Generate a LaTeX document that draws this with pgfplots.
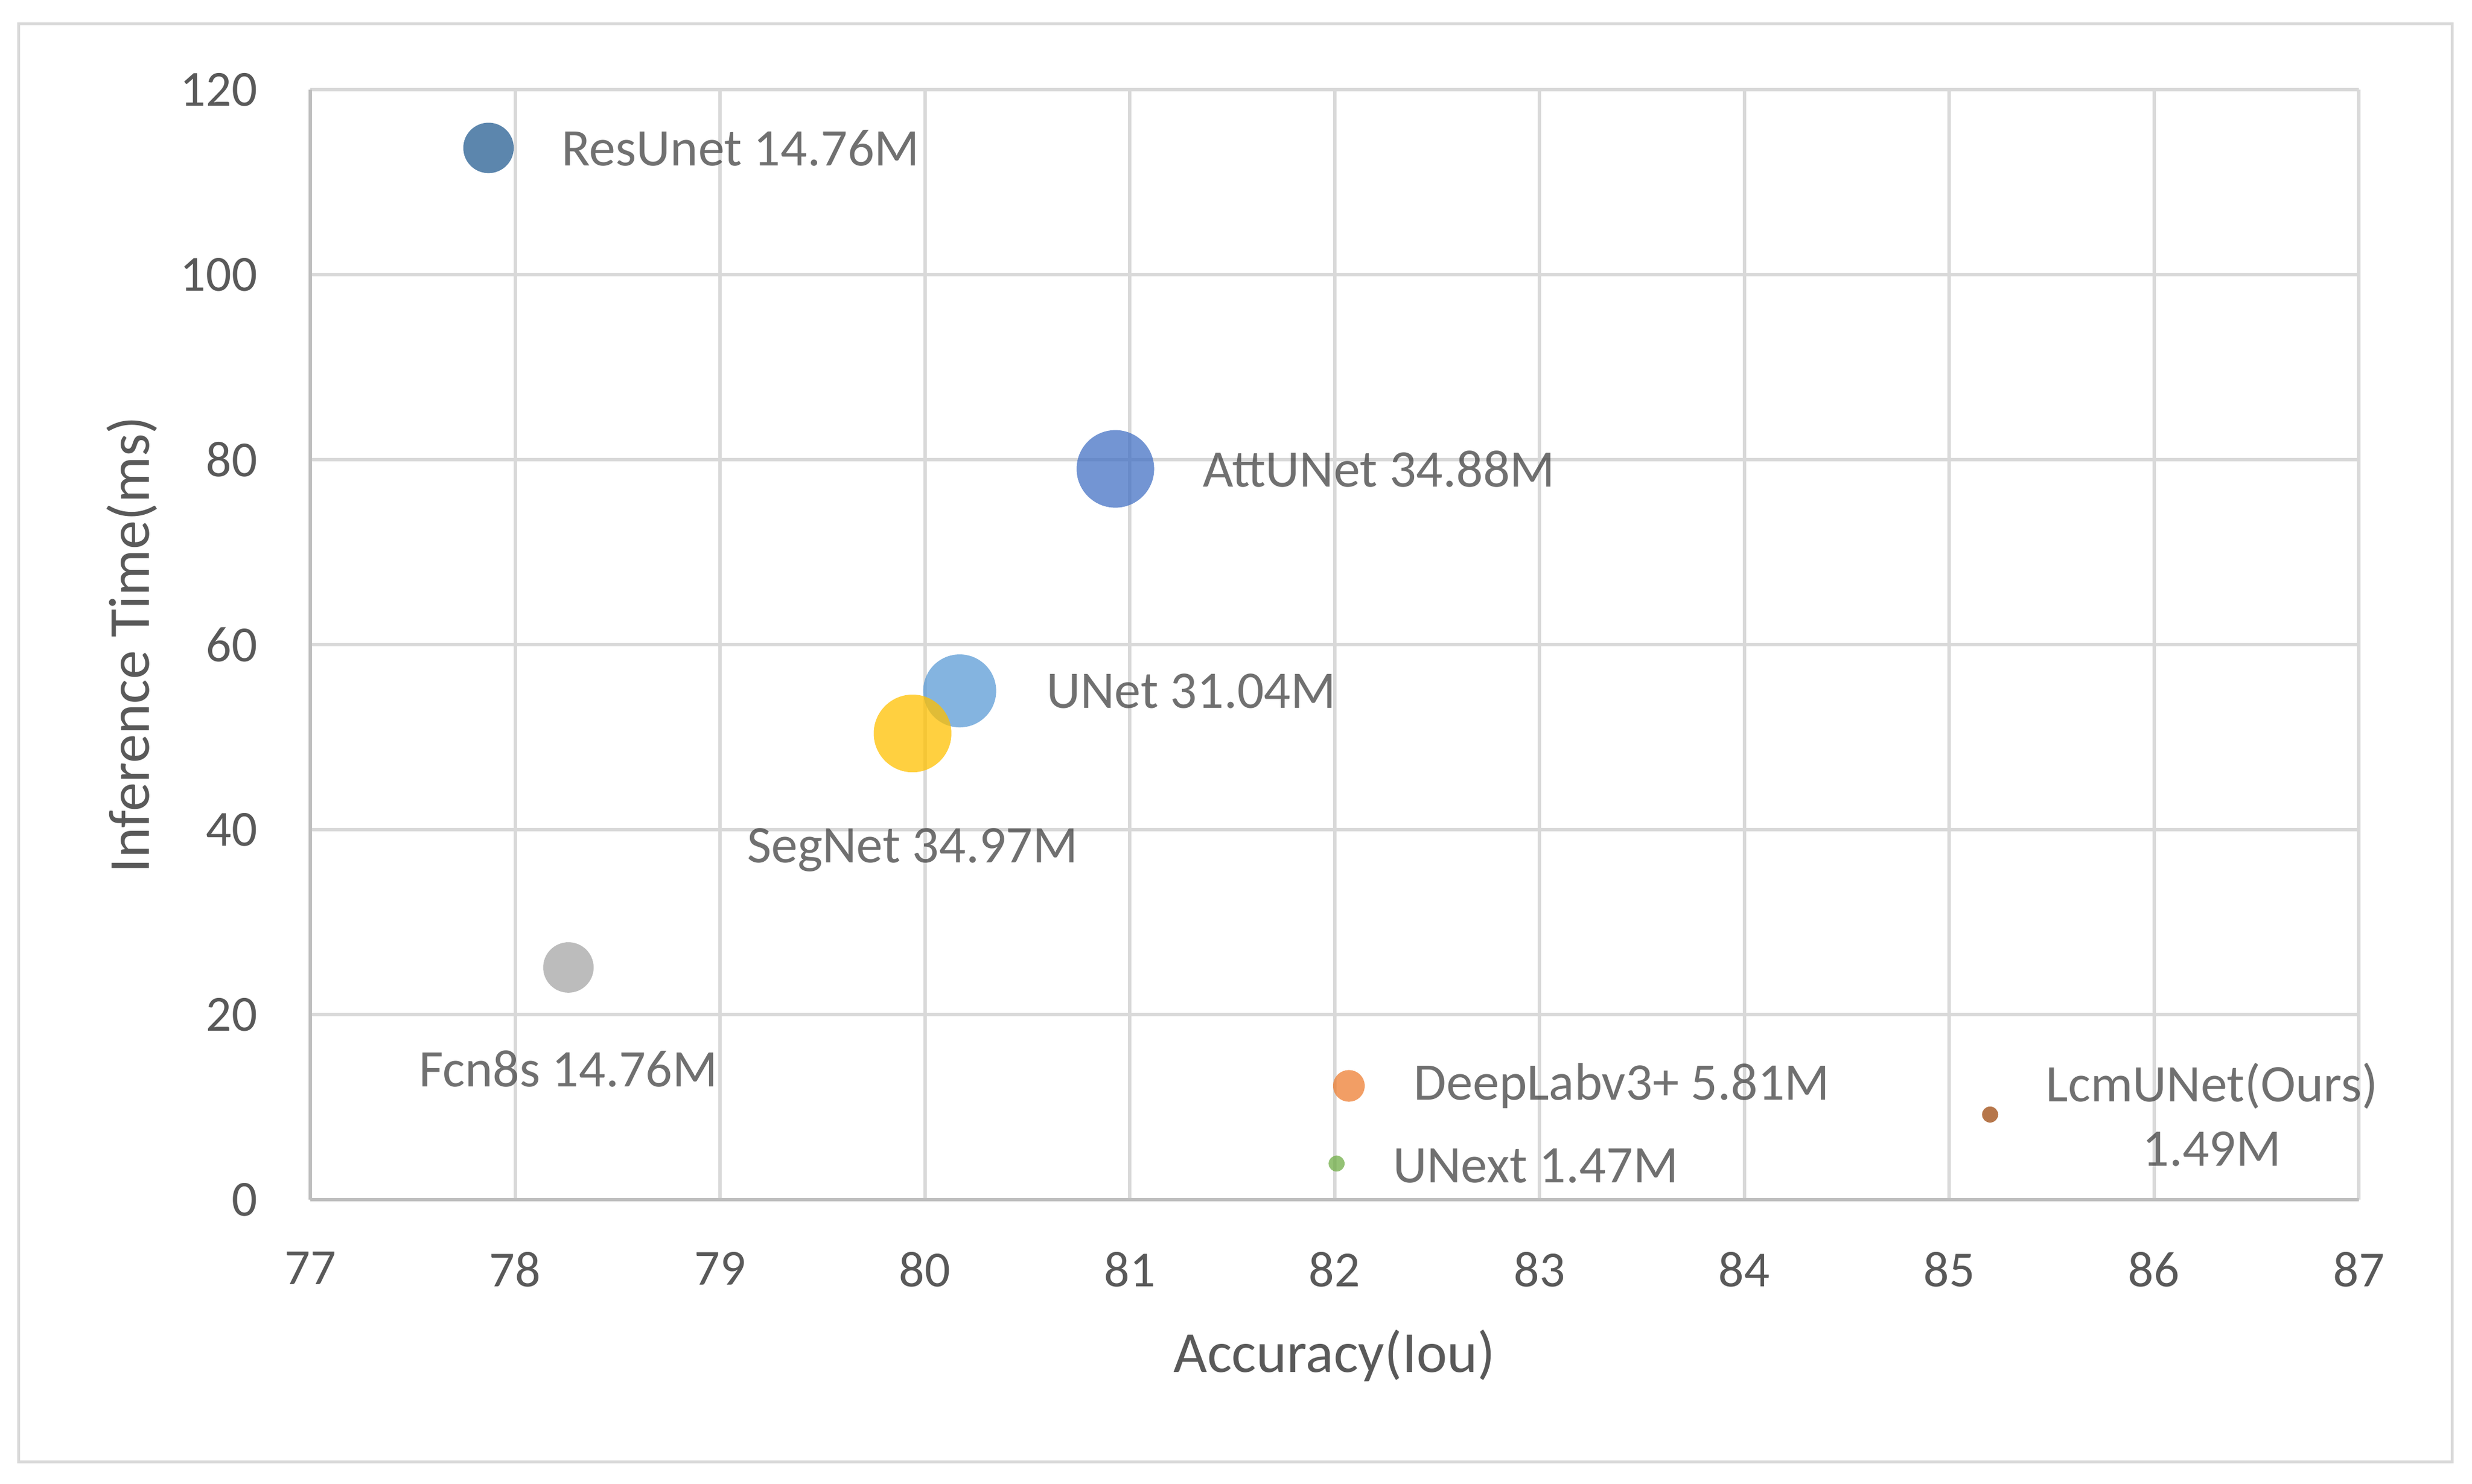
\documentclass[border=0pt]{standalone}
\usepackage{pgfplots}
\pgfplotsset{compat=1.18}
\usepackage{fontspec}
\setmainfont{Carlito}

\definecolor{cgrid}{HTML}{D9D9D9}
\definecolor{caxis}{HTML}{BFBFBF}
\definecolor{ctick}{HTML}{595959}
\definecolor{ctext}{HTML}{404040}
\definecolor{cres}{HTML}{255E91}
\definecolor{catt}{HTML}{4472C4}
\definecolor{cunet}{HTML}{5B9BD5}
\definecolor{cseg}{HTML}{FFC000}
\definecolor{cfcn}{HTML}{A5A5A5}
\definecolor{cdeep}{HTML}{ED7D31}
\definecolor{cnext}{HTML}{70AD47}
\definecolor{clcm}{HTML}{9E480E}

\pgfplotsset{bubble/.style={only marks, mark=*, color=#1,
  mark options={fill=#1, fill opacity=0.75, draw opacity=0, line width=0pt}}}

\begin{document}
\begin{tikzpicture}
\begin{axis}[
  name=ax,
  scale only axis,
  width=356.5pt, height=193.2pt,
  xmin=77, xmax=87, ymin=0, ymax=120,
  xtick={77,...,87}, ytick={0,20,...,120},
  axis lines=left,
  axis line style={-, caxis, line width=0.6pt},
  grid=major,
  major grid style={cgrid, line width=0.6pt},
  major tick length=0pt,
  tick label style={ctick, font=\fontsize{8.8}{10}\selectfont},
  /pgf/number format/assume math mode=true,
  xticklabel style={yshift=-5.6pt},
  yticklabel style={xshift=-5.7pt},
  xlabel={Accuracy(Iou)},
  ylabel={Inference Time(ms)},
  label style={ctick, font=\fontsize{10.1}{12}\selectfont},
  xlabel style={at={(axis description cs:0.5,-0.1408)}, anchor=center},
  ylabel style={at={(axis description cs:-0.087,0.5)}, anchor=center},
  clip=false,
  every node near coord/.style={ctext, font=\fontsize{9.2}{11.2}\selectfont},
]
% ResUnet
\addplot[bubble=cres, mark size=4.39pt,
  nodes near coords={ResUnet 14.76M},
  every node near coord/.append style={anchor=west, xshift=9.4pt}]
  coordinates {(77.87,113.7)};
% AttUNet
\addplot[bubble=catt, mark size=6.75pt,
  nodes near coords={AttUNet 34.88M},
  every node near coord/.append style={anchor=west, xshift=11.9pt}]
  coordinates {(80.93,79.0)};
% UNet
\addplot[bubble=cunet, mark size=6.35pt,
  nodes near coords={UNet 31.04M},
  every node near coord/.append style={anchor=west, xshift=11.8pt}]
  coordinates {(80.17,55.0)};
% SegNet
\addplot[bubble=cseg, mark size=6.76pt,
  nodes near coords={SegNet 34.97M},
  every node near coord/.append style={anchor=center, yshift=-20.3pt}]
  coordinates {(79.94,50.4)};
% Fcn8s
\addplot[bubble=cfcn, mark size=4.39pt,
  nodes near coords={Fcn8s 14.76M},
  every node near coord/.append style={anchor=center, yshift=-17.6pt}]
  coordinates {(78.26,25.1)};
% DeepLabv3+
\addplot[bubble=cdeep, mark size=2.76pt,
  nodes near coords={DeepLabv3+ 5.81M},
  every node near coord/.append style={anchor=west, xshift=8.0pt}]
  coordinates {(82.07,12.3)};
% UNext
\addplot[bubble=cnext, mark size=1.39pt,
  nodes near coords={UNext 1.47M},
  every node near coord/.append style={anchor=west, xshift=6.5pt, yshift=-0.4pt}]
  coordinates {(82.01,3.9)};
% LcmUNet
\addplot[bubble=clcm, mark size=1.4pt,
  nodes near coords={LcmUNet(Ours)\\1.49M},
  every node near coord/.append style={anchor=center, xshift=38.6pt, align=center}]
  coordinates {(85.2,9.2)};
\end{axis}
\draw[cgrid, line width=0.5pt] ([shift={(-50.7pt,-45.6pt)}]ax.south west) rectangle ([shift={(16.2pt,11.5pt)}]ax.north east);
\useasboundingbox ([shift={(-54pt,-49.4pt)}]ax.south west) rectangle ([shift={(19.7pt,15.6pt)}]ax.north east);
\end{tikzpicture}
\end{document}
